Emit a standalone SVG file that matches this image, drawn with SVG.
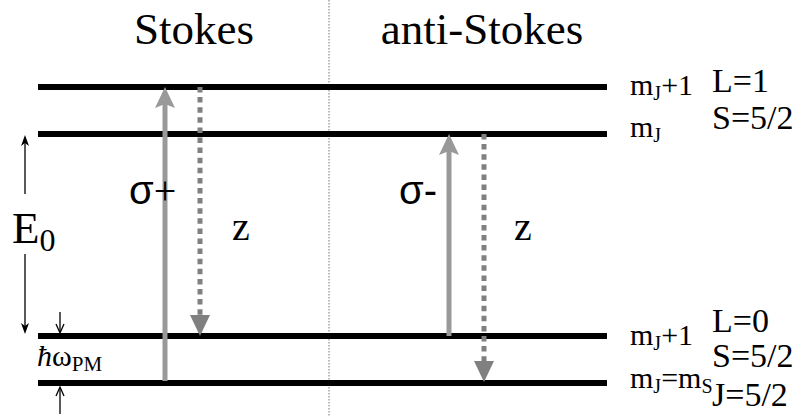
<svg xmlns="http://www.w3.org/2000/svg" width="811" height="417" viewBox="0 0 811 417">
<style>
.lvl{stroke:#000;stroke-width:6}
.solid{stroke:#999;stroke-width:5}
.dot{stroke:#808080;stroke-width:5;stroke-dasharray:5.5 4.6}
.thin{stroke:#000;stroke-width:1.3;fill:none}
text{font-family:'Liberation Serif','Times New Roman','DejaVu Serif',serif;fill:#000}
.sym{font-family:'Liberation Sans',Arial,sans-serif}
</style>
<rect width="811" height="417" fill="#fff"/>
<line x1="329" y1="0" x2="329" y2="417" stroke="#777" stroke-width="1" stroke-dasharray="1.5 1.5"/>
<g id="level-top"><line class="lvl" x1="38" y1="87" x2="607" y2="87"/></g>
<g id="level-mid"><line class="lvl" x1="38" y1="134" x2="607" y2="134"/></g>
<g id="level-low1"><line class="lvl" x1="38" y1="336" x2="607" y2="336"/></g>
<g id="level-low2"><line class="lvl" x1="38" y1="383" x2="607" y2="383"/></g>
<g id="titles">
<text x="194" y="44" font-size="45" text-anchor="middle">Stokes</text>
<text x="482" y="44" font-size="45" text-anchor="middle">anti-Stokes</text>
</g>
<g id="connectors">
<line class="solid" x1="165" y1="381" x2="165" y2="104"/>
<polygon points="165,87 175,108 165,104 155,108" fill="#999"/>
<line class="dot" x1="200" y1="87" x2="200" y2="316"/>
<polygon points="190,315 210,315 200,336" fill="#808080"/>
<line class="solid" x1="449" y1="336" x2="449" y2="151"/>
<polygon points="449,134 459,155 449,151 439,155" fill="#999"/>
<line class="dot" x1="484" y1="134" x2="484" y2="362"/>
<polygon points="474,361 494,361 484,382" fill="#808080"/>
</g>
<g id="labels">
<text x="129" y="204" font-size="40"><tspan class="sym">σ</tspan>+</text>
<text x="399" y="204" font-size="40" class="sym">σ-</text>
<text x="232" y="240" font-size="40">z</text>
<text x="514" y="240" font-size="40">z</text>
</g>
<g id="E0">
<line class="thin" x1="25" y1="142" x2="25" y2="194"/>
<polygon points="25,135 21,146 25,143 29,146"/>
<line class="thin" x1="25" y1="254" x2="25" y2="327"/>
<polygon points="25,334 21,323 25,326 29,323"/>
<text x="12" y="243" font-size="45">E<tspan font-size="32" dy="8">0</tspan></text>
</g>
<g id="hw">
<line class="thin" x1="60" y1="312" x2="60" y2="332"/>
<polyline class="thin" points="56,324 60,333 64,324"/>
<line class="thin" x1="60" y1="388" x2="60" y2="414"/>
<polyline class="thin" points="56,396 60,387 64,396"/>
<text x="37" y="366" font-size="30"><tspan font-style="italic">ħ</tspan>ω<tspan font-size="21" dy="5">PM</tspan></text>
</g>
<g id="right-labels">
<text x="630" y="95" font-size="30">m<tspan font-size="20" dy="5">J</tspan><tspan dy="-5">+1</tspan></text>
<text x="630" y="137" font-size="30">m<tspan font-size="20" dy="5">J</tspan></text>
<text x="712" y="92" font-size="34">L=1</text>
<text x="712" y="129" font-size="34">S=5/2</text>
<text x="630" y="345" font-size="30">m<tspan font-size="20" dy="5">J</tspan><tspan dy="-5">+1</tspan></text>
<text x="630" y="388" font-size="30">m<tspan font-size="20" dy="5">J</tspan><tspan dy="-5">=m</tspan><tspan font-size="20" dy="5">S</tspan></text>
<text x="712" y="332" font-size="34">L=0</text>
<text x="712" y="367" font-size="34">S=5/2</text>
<text x="712" y="406" font-size="34">J=5/2</text>
</g>
</svg>
